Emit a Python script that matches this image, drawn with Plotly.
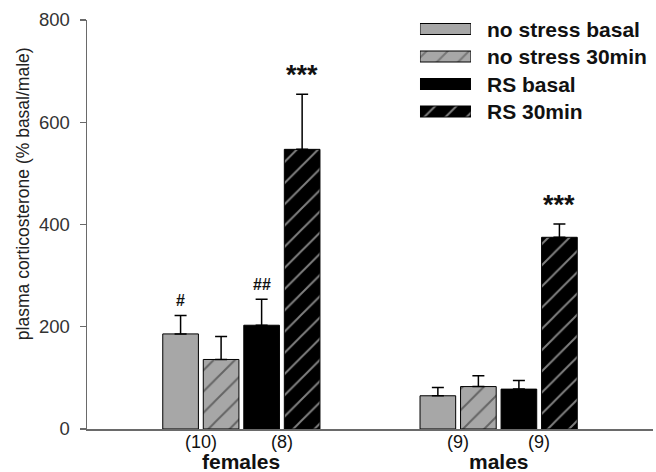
import plotly.graph_objects as go

# ---- data ----
groups = ["females", "males"]
series = ["no stress basal", "no stress 30min", "RS basal", "RS 30min"]
means = {
    "no stress basal": [186, 65],
    "no stress 30min": [136, 83],
    "RS basal": [203, 78],
    "RS 30min": [547, 375],
}
sem = {
    "no stress basal": [36, 16],
    "no stress 30min": [45, 21],
    "RS basal": [51, 17],
    "RS 30min": [108, 26],
}
marks = {
    "no stress basal": ["#", ""],
    "no stress 30min": ["", ""],
    "RS basal": ["##", ""],
    "RS 30min": ["***", "***"],
}
n_labels = [["(10)", "(8)"], ["(9)", "(9)"]]
y_ticks = [0, 200, 400, 600, 800]

# ---- styles ----
GRAY = "#a7a7a7"
styles = {
    "no stress basal": dict(color=GRAY, shape="", fg="black"),
    "no stress 30min": dict(color=GRAY, shape="/", fg="#222222"),
    "RS basal": dict(color="black", shape="", fg="black"),
    "RS 30min": dict(color="black", shape="/", fg="white"),
}
FONT = "Liberation Sans, Arial, Helvetica, sans-serif"
BARGAP = 0.37
GROUPGAP = 0.12
pitch = (1 - BARGAP) / len(series)

fig = go.Figure()
xs = list(range(len(groups)))
for s in series:
    st = styles[s]
    fig.add_trace(go.Bar(
        x=xs, y=means[s], name=s, showlegend=False,
        marker=dict(color=st["color"], line=dict(color="black", width=1),
                    pattern=dict(shape=st["shape"], bgcolor=st["color"], fgcolor=st["fg"],
                                 size=15, solidity=0.13)),
        error_y=dict(type="data", symmetric=False, array=sem[s], arrayminus=[0] * len(xs),
                     color="black", thickness=1.5, width=6),
        xaxis="x", yaxis="y",
    ))

# custom legend swatches (wide rectangles)
fig.add_trace(go.Bar(
    y=series, x=[1] * len(series), orientation="h", base=0, width=0.4, offset=-0.2,
    showlegend=False, hoverinfo="skip",
    marker=dict(color=[styles[s]["color"] for s in series],
                line=dict(color="black", width=1),
                pattern=dict(shape=[styles[s]["shape"] for s in series],
                             bgcolor=[styles[s]["color"] for s in series],
                             fgcolor=[styles[s]["fg"] for s in series],
                             size=15, solidity=0.13)),
    xaxis="x2", yaxis="y2",
))

annotations = []
for i, s in enumerate(series):
    off = (i - (len(series) - 1) / 2) * pitch
    for g in xs:
        m = marks[s][g]
        if m:
            big = m.startswith("*")
            annotations.append(dict(
                x=g + off, y=means[s][g] + sem[s][g], xref="x", yref="y",
                text="<b>%s</b>" % m, showarrow=False, yanchor="middle",
                yshift=19 if big else 15,
                font=dict(family=FONT, size=27 if big else 16, color="#111111"),
            ))
    annotations.append(dict(
        x=0.7032, xref="paper", y=s, yref="y2", text="<b>%s</b>" % s, showarrow=False,
        xanchor="left", yanchor="middle",
        font=dict(family=FONT, size=21, color="#111111"),
    ))

for g, name in enumerate(groups):
    for j, lab in enumerate(n_labels[g]):
        annotations.append(dict(
            x=g + (-pitch if j == 0 else pitch), xref="x", y=0, yref="y",
            text=lab, showarrow=False, yanchor="middle", yshift=-13,
            font=dict(family=FONT, size=18, color="#111111"),
        ))
    annotations.append(dict(
        x=g, xref="x", y=0, yref="y", text="<b>%s</b>" % name, showarrow=False,
        yanchor="middle", yshift=-33,
        font=dict(family=FONT, size=21, color="#111111"),
    ))

annotations.append(dict(
    x=-0.113, xref="paper", y=0.554, yref="paper",
    text="plasma corticosterone (% basal/male)", textangle=-90, showarrow=False,
    xanchor="center", yanchor="middle",
    font=dict(family=FONT, size=17.5, color="#222222"),
))

fig.update_layout(
    width=656, height=472,
    margin=dict(l=87, r=3, t=5, b=43, autoexpand=False),
    paper_bgcolor="white", plot_bgcolor="white",
    barmode="group", bargap=BARGAP, bargroupgap=GROUPGAP,
    font=dict(family=FONT, color="#333333"),
    annotations=annotations,
    xaxis=dict(domain=[0, 1], range=[-0.6, 1.6], showline=True, linecolor="#6a6a6a",
               linewidth=1.5, showticklabels=False, ticks="", showgrid=False,
               zeroline=False, anchor="y", automargin=False),
    yaxis=dict(domain=[0, 0.9646], range=[0, 800], tickvals=y_ticks, showline=True,
               linecolor="#6a6a6a", linewidth=1.5, ticks="outside", ticklen=6,
               tickcolor="#6a6a6a", tickwidth=1.5, showgrid=False, zeroline=False,
               tickfont=dict(family=FONT, size=18.5, color="#333333"),
               ticklabelstandoff=6, anchor="x", automargin=False),
    xaxis2=dict(domain=[0.5883, 0.6784], range=[0, 1], visible=False, anchor="y2",
                automargin=False),
    yaxis2=dict(domain=[0.7164, 0.9758], type="category", categoryarray=series,
                categoryorder="array", range=[3.5, -0.5], visible=False, anchor="x2",
                automargin=False),
    showlegend=False,
)

fig.write_html("out.html",
               config={"displayModeBar": False, "staticPlot": True},
               post_script="document.body.style.margin='0px';document.body.style.overflow='hidden';")
